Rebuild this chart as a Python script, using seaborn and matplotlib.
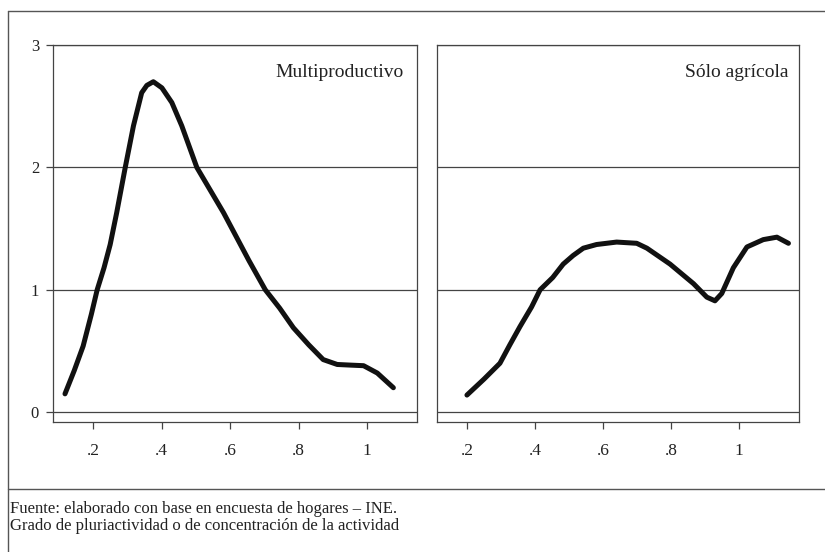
import numpy as np
import pandas as pd
import seaborn as sns
import matplotlib.pyplot as plt
from matplotlib.lines import Line2D

# Values
multi_x = [0.118, 0.145, 0.171, 0.195, 0.212, 0.232, 0.25, 0.269, 0.294, 0.318, 0.342,
           0.357, 0.376, 0.401, 0.430, 0.459, 0.503, 0.581, 0.655, 0.703, 0.745,
           0.785, 0.83, 0.872, 0.913, 0.95, 0.99, 1.03, 1.077]
multi_y = [0.15, 0.34, 0.54, 0.80, 1.0, 1.18, 1.37, 1.63, 2.0, 2.34, 2.61,
           2.67, 2.70, 2.65, 2.53, 2.34, 2.0, 1.63, 1.24, 1.0, 0.85,
           0.69, 0.55, 0.43, 0.39, 0.385, 0.38, 0.32, 0.2]

agri_x = [0.2, 0.25, 0.297, 0.326, 0.356, 0.39, 0.415, 0.452, 0.483, 0.512, 0.542,
          0.581, 0.640, 0.699, 0.729, 0.797, 0.866, 0.905, 0.929, 0.949, 0.983,
          1.023, 1.071, 1.111, 1.145]
agri_y = [0.14, 0.27, 0.40, 0.55, 0.70, 0.86, 1.0, 1.10, 1.21, 1.28, 1.34,
          1.37, 1.39, 1.38, 1.34, 1.21, 1.05, 0.94, 0.91, 0.97, 1.18,
          1.35, 1.41, 1.43, 1.38]

panel_titles = ['Multiproductivo', 'Sólo agrícola']
xticks = [0.2, 0.4, 0.6, 0.8, 1.0]
xtick_labels = ['.2', '.4', '.6', '.8', '1']
yticks = [0, 1, 2, 3]
ytick_labels = ['0', '1', '2', '3']
footer = ['Fuente: elaborado con base en encuesta de hogares – INE.',
          'Grado de pluriactividad o de concentración de la actividad']

sns.set_theme(style='white')
plt.rcParams['font.family'] = ['Liberation Serif', 'DejaVu Serif']

df = pd.concat([
    pd.DataFrame({'x': multi_x, 'y': multi_y, 'panel': panel_titles[0]}),
    pd.DataFrame({'x': agri_x, 'y': agri_y, 'panel': panel_titles[1]}),
])

fig = plt.figure(figsize=(8.25, 5.52), dpi=100)
ax_l = fig.add_axes([53 / 825, 1 - 422 / 552, 364 / 825, 377 / 552])
ax_r = fig.add_axes([437 / 825, 1 - 422 / 552, 362 / 825, 377 / 552])

edge = '#444444'
limits = {panel_titles[0]: (0.083, 1.146), panel_titles[1]: (0.112, 1.176)}
for ax, name in zip([ax_l, ax_r], panel_titles):
    sub = df[df.panel == name]
    sns.lineplot(sub, x='x', y='y', ax=ax, color='#111111', lw=3.6,
                 solid_joinstyle='round', solid_capstyle='round', sort=False)
    ax.set_xlim(*limits[name])
    ax.set_ylim(-0.08, 3)
    ax.set_xlabel('')
    ax.set_ylabel('')
    ax.set_xticks(xticks, xtick_labels)
    ax.set_yticks(yticks, ytick_labels)
    for y in yticks:
        ax.axhline(y, color=edge, lw=0.9, zorder=0)
    for s in ax.spines.values():
        s.set_color(edge)
        s.set_linewidth(0.9)
    ax.tick_params(axis='x', bottom=True, length=5, width=0.9, color=edge,
                   labelsize=12.5, pad=10, labelcolor='#222222')
    ax.tick_params(axis='y', left=True, length=5, width=0.9, color=edge,
                   labelsize=12, pad=5, labelcolor='#222222')
    ax.text(0.962 if ax is ax_l else 0.970, 0.928, name, transform=ax.transAxes,
            ha='right', va='center', fontsize=14, color='#222222')

ax_r.tick_params(axis='y', left=False, labelleft=False)

# frame lines of the figure box
line_kw = dict(color='#555555', lw=1.0, transform=fig.transFigure)
fig.add_artist(Line2D([8 / 825, 1], [1 - 11 / 552] * 2, **line_kw))
fig.add_artist(Line2D([8 / 825] * 2, [0, 1 - 11 / 552], **line_kw))
fig.add_artist(Line2D([8 / 825, 1], [1 - 489 / 552] * 2, **line_kw))

fig.text(10 / 825, 1 - 513 / 552, footer[0], fontsize=12, va='baseline', color='#222222')
fig.text(10 / 825, 1 - 530 / 552, footer[1], fontsize=12, va='baseline', color='#222222')

fig.savefig('out.png', dpi=100)
